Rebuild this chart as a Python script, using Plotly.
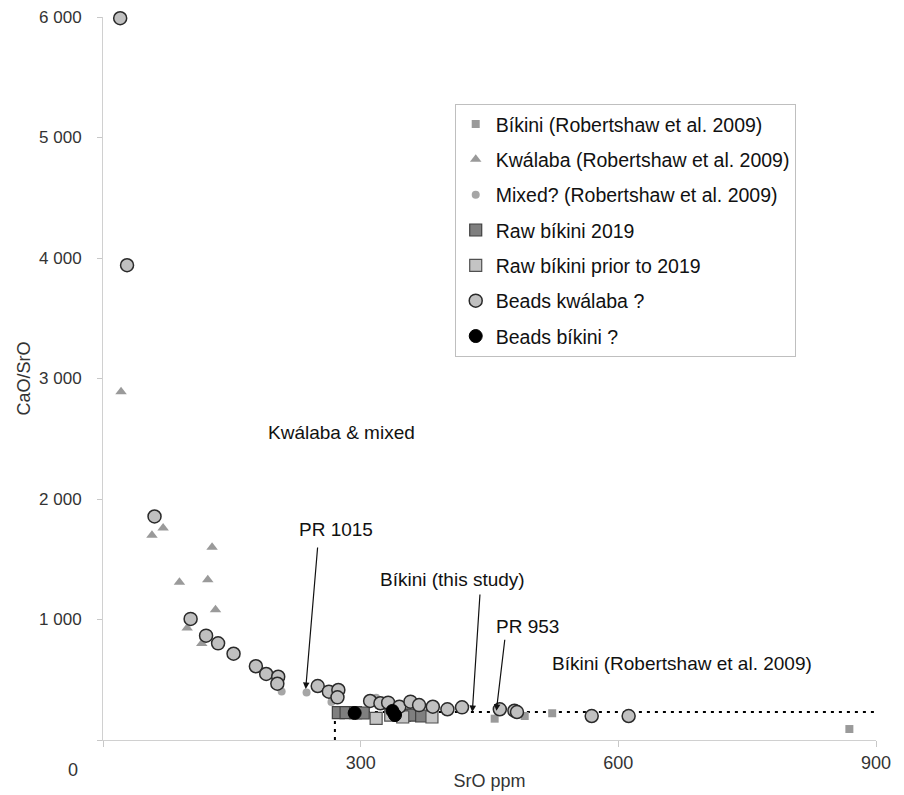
import plotly.graph_objects as go

# ---- data ----
bik_rob_x = [456, 491, 523, 869]
bik_rob_y = [177, 199, 222, 91]

kwa_rob_x = [21, 57, 70, 89, 122, 127, 131, 98, 115]
kwa_rob_y = [2890, 1700, 1760, 1310, 1330, 1600, 1080, 930, 800]

mixed_x = [208, 237, 266, 318]
mixed_y = [402, 395, 315, 350]

raw2019_x = [274, 283, 294, 303, 351, 361, 371]
raw2019_y = [228, 228, 228, 224, 207, 207, 199]

rawprior_x = [318, 335, 349, 383]
rawprior_y = [180, 207, 191, 191]

beads_kwa_x = [20, 28, 60, 102, 120, 134, 152, 178, 190, 204, 203, 250, 263, 274, 273,
               311, 323, 332, 345, 358, 368, 384, 401, 418, 462, 479, 482, 569, 612]
beads_kwa_y = [5990, 3940, 1855, 1005, 866, 802, 716, 612, 548, 525, 467, 448, 401, 415, 354,
               324, 305, 310, 276, 318, 290, 276, 255, 271, 255, 243, 232, 199, 199]

beads_bik_x = [293, 337, 340]
beads_bik_y = [224, 241, 207]

# boundary (dotted lines)
bound_x = 270
bound_y = 232

x_ticks = [0, 300, 600, 900]
x_ticktext = ["", "300", "600", "900"]
y_ticks = [0, 1000, 2000, 3000, 4000, 5000, 6000]
y_ticktext = ["", "1 000", "2 000", "3 000", "4 000", "5 000", "6 000"]

FONT = "Liberation Sans, Arial, sans-serif"
TXT = "#333333"

fig = go.Figure()

# dotted boundary lines
fig.add_trace(go.Scatter(x=[bound_x, bound_x], y=[0, bound_y], mode="lines",
                         line=dict(color="black", width=2, dash="3px,5px"),
                         showlegend=False, hoverinfo="skip"))
fig.add_trace(go.Scatter(x=[bound_x, 900], y=[bound_y, bound_y], mode="lines",
                         line=dict(color="black", width=2, dash="3px,5px"),
                         showlegend=False, hoverinfo="skip"))

fig.add_trace(go.Scatter(x=bik_rob_x, y=bik_rob_y, mode="markers",
                         name="Bíkini (Robertshaw et al. 2009)", legendgroup="a",
                         marker=dict(symbol="square", size=8, color="#9a9a9a")))
fig.add_trace(go.Scatter(x=kwa_rob_x, y=kwa_rob_y, mode="markers",
                         name="Kwálaba (Robertshaw et al. 2009)", legendgroup="b",
                         marker=dict(symbol="triangle-up", size=10, color="#9a9a9a")))
fig.add_trace(go.Scatter(x=mixed_x, y=mixed_y, mode="markers",
                         name="Mixed? (Robertshaw et al. 2009)", legendgroup="c",
                         marker=dict(symbol="circle", size=8, color="#a6a6a6")))
fig.add_trace(go.Scatter(x=raw2019_x, y=raw2019_y, mode="markers",
                         name="Raw bíkini 2019", legendgroup="d",
                         marker=dict(symbol="square", size=12, color="#7f7f7f",
                                     line=dict(color="#404040", width=1.2))))
fig.add_trace(go.Scatter(x=rawprior_x, y=rawprior_y, mode="markers",
                         name="Raw bíkini prior to 2019", legendgroup="e",
                         marker=dict(symbol="square", size=12, color="#c4c4c4",
                                     line=dict(color="#505050", width=1.2))))
fig.add_trace(go.Scatter(x=beads_kwa_x, y=beads_kwa_y, mode="markers",
                         name="Beads kwálaba ?", legendgroup="f", cliponaxis=False,
                         marker=dict(symbol="circle", size=13, color="#c0c0c0",
                                     line=dict(color="#2a2a2a", width=1.5))))
fig.add_trace(go.Scatter(x=beads_bik_x, y=beads_bik_y, mode="markers",
                         name="Beads bíkini ?", legendgroup="g",
                         marker=dict(symbol="circle", size=13, color="#000000",
                                     line=dict(color="#000000", width=1))))

annotations = []
# arrows
arrows = [((250, 1610), (236, 423)),
          ((439, 1220), (430, 232)),
          ((468, 844), (458, 242))]
for (tx, ty), (hx, hy) in arrows:
    annotations.append(dict(x=hx, y=hy, ax=tx, ay=ty, xref="x", yref="y",
                            axref="x", ayref="y", text="", showarrow=True,
                            arrowhead=2, arrowsize=1.1, arrowwidth=1.2,
                            arrowcolor="#111111"))
labels = [("Kwálaba & mixed", 278, 2556),
          ("PR 1015", 271, 1743),
          ("Bíkini (this study)", 407, 1328),
          ("PR 953", 494, 938),
          ("Bíkini (Robertshaw et al. 2009)", 674, 639)]
for t, x, y in labels:
    annotations.append(dict(x=x, y=y, xref="x", yref="y", text=t, showarrow=False,
                            font=dict(family=FONT, size=19, color="#111111")))
# origin label
annotations.append(dict(x=-0.039, y=-0.0415, xref="paper", yref="paper", text="0",
                        xanchor="center", yanchor="middle",
                        showarrow=False, font=dict(family=FONT, size=18, color=TXT)))

fig.update_layout(
    width=896, height=787,
    margin=dict(l=95, r=28, t=9, b=55),
    paper_bgcolor="white", plot_bgcolor="white",
    font=dict(family=FONT, size=18, color=TXT),
    annotations=annotations,
    legend=dict(x=0.455, y=0.88, xanchor="left", yanchor="top",
                bgcolor="white", bordercolor="#bfbfbf", borderwidth=1,
                font=dict(family=FONT, size=19.5, color="#111111"),
                itemsizing="trace", tracegroupgap=7),
    xaxis=dict(range=[0, 900], tickvals=x_ticks, ticktext=x_ticktext,
               showgrid=False, zeroline=False, showline=True, automargin=False,
               linecolor="#d0d0d0", linewidth=1, ticks="outside", ticklen=6,
               tickcolor="#c8c8c8", tickfont=dict(family=FONT, size=18, color=TXT),
               ticklabeloverflow="allow",
               title=dict(text="SrO ppm", font=dict(family=FONT, size=18, color=TXT),
                          standoff=2)),
    yaxis=dict(range=[0, 6000], tickvals=y_ticks, ticktext=y_ticktext,
               showgrid=False, zeroline=False, showline=True, automargin=False,
               linecolor="#d0d0d0", linewidth=1, ticks="outside", ticklen=5,
               tickcolor="#c8c8c8", tickfont=dict(family=FONT, size=17, color=TXT),
               ticklabelstandoff=12, ticklabeloverflow="allow",
               title=dict(text="CaO/SrO", font=dict(family=FONT, size=18, color=TXT),
                          standoff=3)),
)

fig.write_html("out.html")
